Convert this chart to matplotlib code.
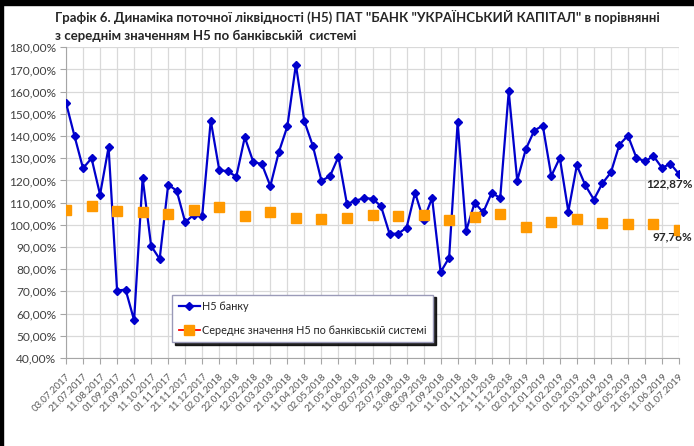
import matplotlib.pyplot as plt
import numpy as np
from matplotlib.lines import Line2D
from matplotlib.patches import Rectangle

# Н5 банку, every decade 03.07.2017 .. 01.07.2019 (73 points)
bank_h5 = [155.0, 140.0, 125.5, 130.0, 113.6, 135.0, 70.4, 70.8, 57.0, 121.2,
           90.5, 84.6, 118.1, 115.4, 101.2, 104.5, 104.1, 147.0, 124.7, 124.1,
           121.7, 139.5, 128.3, 127.4, 117.5, 132.8, 144.4, 172.2, 146.6, 135.5,
           119.9, 121.9, 130.7, 109.4, 110.9, 112.0, 111.8, 108.4, 96.0, 96.0,
           98.7, 114.5, 102.1, 112.1, 78.7, 85.2, 146.2, 97.3, 110.0, 105.6,
           114.4, 112.1, 160.1, 119.9, 134.0, 142.5, 144.7, 122.0, 130.2, 106.0,
           126.8, 117.8, 111.4, 118.7, 123.6, 136.1, 140.2, 130.2, 128.6, 131.0,
           125.7, 127.5, 122.87]

# середнє по системі, monthly (every 3rd decade)
system_h5 = [106.6, 108.5, 106.2, 105.7, 104.7, 106.6, 108.1, 103.8, 105.6, 103.0,
             102.6, 103.0, 104.4, 103.8, 104.4, 102.1, 103.5, 104.8, 99.1, 101.5,
             102.6, 100.9, 100.3, 100.5, 97.76]

tick_labels = ['03.07.2017', '21.07.2017', '11.08.2017', '01.09.2017', '21.09.2017',
               '11.10.2017', '01.11.2017', '21.11.2017', '11.12.2017', '02.01.2018',
               '22.01.2018', '12.02.2018', '01.03.2018', '21.03.2018', '11.04.2018',
               '02.05.2018', '21.05.2018', '11.06.2018', '02.07.2018', '23.07.2018',
               '13.08.2018', '03.09.2018', '21.09.2018', '11.10.2018', '01.11.2018',
               '21.11.2018', '11.12.2018', '02.01.2019', '21.01.2019', '11.02.2019',
               '01.03.2019', '21.03.2019', '11.04.2019', '02.05.2019', '21.05.2019',
               '11.06.2019', '01.07.2019']

title = ('Графік 6. Динаміка поточної ліквідності (Н5) ПАТ "БАНК "УКРАЇНСЬКИЙ КАПІТАЛ" в порівнянні\n'
         'з середнім значенням Н5 по банківській  системі')

plt.rcParams['font.family'] = ['Lato', 'DejaVu Sans']

W, H = 694, 446
fig = plt.figure(figsize=(W / 100, H / 100), dpi=100)
ax = fig.add_axes([66 / W, 1 - 358 / H, (679 - 66) / W, (358 - 47.3) / H])

blue = '#0000CC'
orange = '#FF9900'

x_bank = np.arange(len(bank_h5))
x_sys = np.arange(0, len(bank_h5), 3)

ax.plot(x_bank, bank_h5, color=blue, lw=1.6, marker='D', ms=4.2, zorder=3)
ax.plot(x_sys, system_h5, ls='none', marker='s', ms=7.5, color=orange, zorder=4)

ax.set_xlim(0, len(bank_h5) - 1)
ax.set_ylim(40, 180)
ax.set_yticks(np.arange(40, 181, 10))
ax.set_yticklabels([f'{v:.2f}%'.replace('.', ',') for v in np.arange(40, 181, 10)],
                   fontsize=8.6, color='#404040')
ax.set_xticks(np.arange(0, len(bank_h5), 2))
ax.set_xticklabels(tick_labels, rotation=45, ha='right', va='top',
                   rotation_mode='anchor', fontsize=7, color='#595959')

ax.grid(True, color='#D9D9D9', lw=0.9)
ax.set_axisbelow(True)
for s in ['top', 'right']:
    ax.spines[s].set_visible(False)
for s in ['left', 'bottom']:
    ax.spines[s].set_color('#A6A6A6')
ax.tick_params(axis='x', length=4, color='#A6A6A6', pad=6)
ax.tick_params(axis='y', length=4, color='#A6A6A6', pad=3)

ax.annotate('122,87%', xy=(x_bank[-1], bank_h5[-1]), xytext=(-7, -7),
            textcoords='offset points', ha='center', va='center',
            fontsize=8.5, fontweight='bold', color='#262626', annotation_clip=False)
ax.annotate('97,76%', xy=(x_sys[-1], system_h5[-1]), xytext=(-5, -5),
            textcoords='offset points', ha='center', va='center',
            fontsize=8.5, fontweight='bold', color='#262626', annotation_clip=False)

fig.text(55 / W, 1 - 10 / H, title, ha='left', va='top', fontsize=9.5,
         fontweight='bold', color='#262626', linespacing=1.6)

handles = [Line2D([], [], color=blue, lw=1.6, marker='D', ms=4.2),
           Line2D([], [], color='red', lw=1.3, marker='s', ms=7,
                  markerfacecolor=orange, markeredgecolor=orange)]
leg = fig.legend(handles, ['Н5 банку', 'Середнє значення Н5 по банківській системі'],
                 loc='lower left', bbox_to_anchor=(172 / W, 1 - 342 / H),
                 fontsize=7.8, frameon=True, fancybox=False,
                 shadow={'color': 'black', 'alpha': 0.85, 'ox': 2, 'oy': -2},
                 handlelength=2.0, handletextpad=0.15, labelspacing=1.15,
                 borderpad=0.6, borderaxespad=0, labelcolor='#262626')
leg.get_frame().set_edgecolor('#9A9AB8')
leg.get_frame().set_linewidth(1)

# black screenshot border, top and left
fig.patches.append(Rectangle((0, 1 - 5 / H), 1, 5 / H, transform=fig.transFigure,
                             color='black', zorder=10))
fig.patches.append(Rectangle((0, 0), 3 / W, 1, transform=fig.transFigure,
                             color='black', zorder=10))

fig.savefig('out.png', dpi=100)
